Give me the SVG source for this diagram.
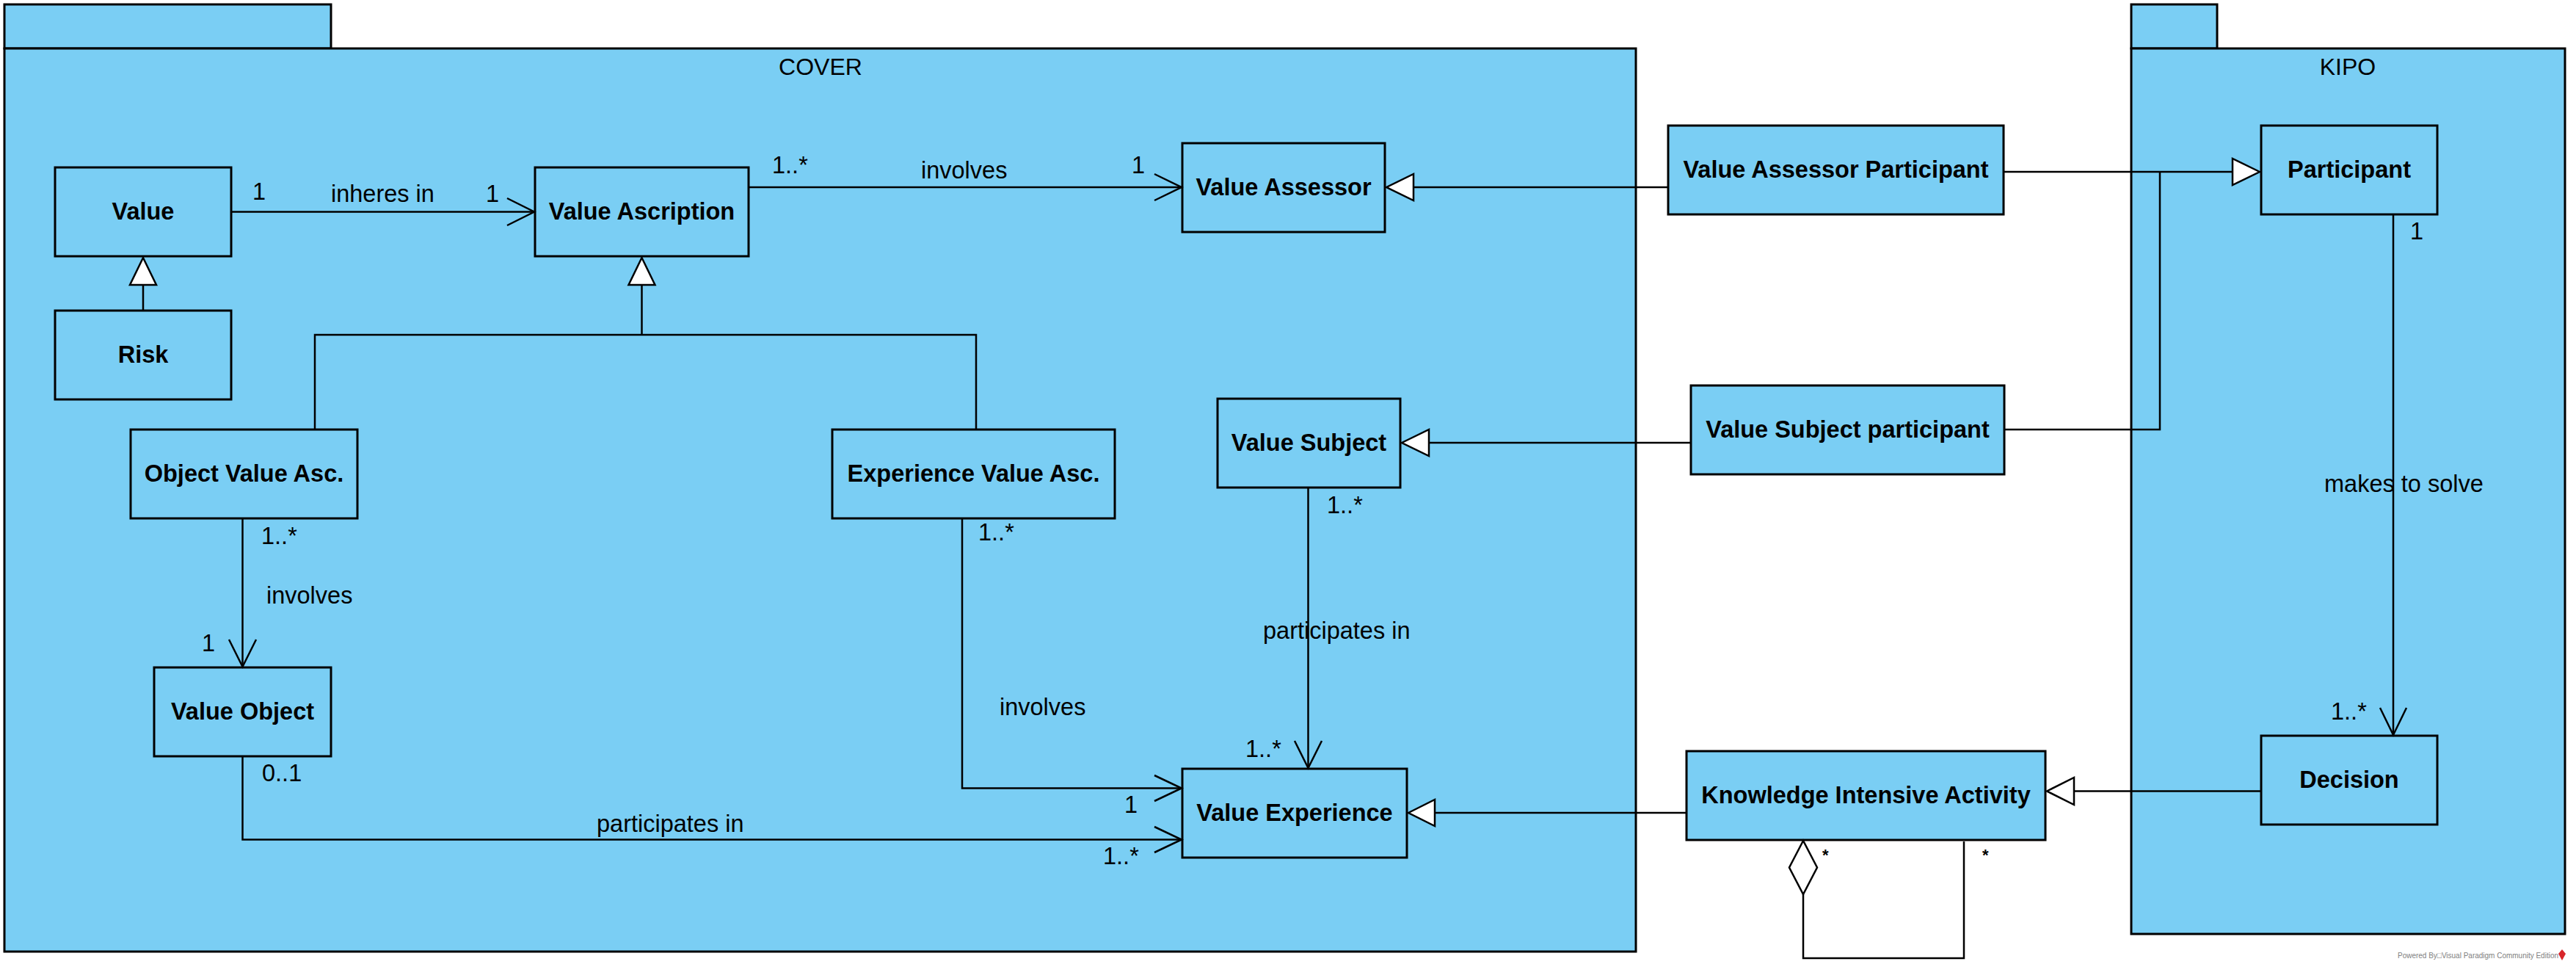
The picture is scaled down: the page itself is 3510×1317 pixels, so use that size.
<svg xmlns="http://www.w3.org/2000/svg" width="3510" height="1317" viewBox="0 0 3510 1317">
<style>
.pkg{fill:#7ACEF4;stroke:#000;stroke-width:3}
.box{fill:#7ACEF4;stroke:#000;stroke-width:3}
.name{font-family:"Liberation Sans",Arial,sans-serif;font-weight:bold;font-size:32.5px;text-anchor:middle;fill:#000}
.plabel{font-family:"Liberation Sans",Arial,sans-serif;font-size:32px;text-anchor:middle;fill:#000}
.lbl{font-family:"Liberation Sans",Arial,sans-serif;font-size:32.5px;fill:#000}
.star{font-family:"Liberation Sans",Arial,sans-serif;font-size:22px;font-weight:bold;fill:#000}
.ln{fill:none;stroke:#000;stroke-width:2.5}
.open{fill:none;stroke:#000;stroke-width:2.5}
.tri{fill:#fff;stroke:#000;stroke-width:2.5}
</style>
<rect width="3510" height="1317" fill="#fff"/>
<g id="pkg-cover">
<rect class="pkg" x="6" y="6" width="445" height="60"/>
<rect class="pkg" x="6" y="66" width="2223" height="1230"/>
<text class="plabel" x="1118" y="102">COVER</text>
</g>
<g id="pkg-kipo">
<rect class="pkg" x="2904" y="6" width="117" height="60"/>
<rect class="pkg" x="2904" y="66" width="591" height="1206"/>
<text class="plabel" x="3199" y="102">KIPO</text>
</g>
<g id="node-value"><rect class="box" x="75" y="228" width="240" height="121"/><text class="name" x="195" y="299">Value</text></g>
<g id="node-value-ascription"><rect class="box" x="729" y="228" width="291" height="121"/><text class="name" x="874.5" y="299">Value Ascription</text></g>
<g id="node-risk"><rect class="box" x="75" y="423" width="240" height="121"/><text class="name" x="195" y="494">Risk</text></g>
<g id="node-value-assessor"><rect class="box" x="1611" y="195" width="276" height="121"/><text class="name" x="1749" y="266">Value Assessor</text></g>
<g id="node-object-value-asc"><rect class="box" x="178" y="585" width="309" height="121"/><text class="name" x="332.5" y="656">Object Value Asc.</text></g>
<g id="node-experience-value-asc"><rect class="box" x="1134" y="585" width="385" height="121"/><text class="name" x="1326.5" y="656">Experience Value Asc.</text></g>
<g id="node-value-subject"><rect class="box" x="1659" y="543" width="249" height="121"/><text class="name" x="1783.5" y="614">Value Subject</text></g>
<g id="node-value-object"><rect class="box" x="210" y="909" width="241" height="121"/><text class="name" x="330.5" y="980">Value Object</text></g>
<g id="node-value-experience"><rect class="box" x="1611" y="1047" width="306" height="121"/><text class="name" x="1764" y="1118">Value Experience</text></g>
<g id="node-value-assessor-participant"><rect class="box" x="2273" y="171" width="457" height="121"/><text class="name" x="2501.5" y="242">Value Assessor Participant</text></g>
<g id="node-value-subject-participant"><rect class="box" x="2304" y="525" width="427" height="121"/><text class="name" x="2517.5" y="596">Value Subject participant</text></g>
<g id="node-knowledge-intensive-activity"><rect class="box" x="2298" y="1023" width="489" height="121"/><text class="name" x="2542.5" y="1094">Knowledge Intensive Activity</text></g>
<g id="node-participant"><rect class="box" x="3081" y="171" width="240" height="121"/><text class="name" x="3201" y="242">Participant</text></g>
<g id="node-decision"><rect class="box" x="3081" y="1002" width="240" height="121"/><text class="name" x="3201" y="1073">Decision</text></g>
<g id="connectors">
<g id="labels">
<text class="lbl" x="344" y="272">1</text>
<text class="lbl" x="451" y="275">inheres in</text>
<text class="lbl" x="662" y="275">1</text>
<text class="lbl" x="1052" y="236">1..*</text>
<text class="lbl" x="1255" y="243">involves</text>
<text class="lbl" x="1542" y="236">1</text>
<text class="lbl" x="356" y="741">1..*</text>
<text class="lbl" x="363" y="822">involves</text>
<text class="lbl" x="275" y="887">1</text>
<text class="lbl" x="357" y="1064">0..1</text>
<text class="lbl" x="813" y="1133">participates in</text>
<text class="lbl" x="1503" y="1177">1..*</text>
<text class="lbl" x="1333" y="736">1..*</text>
<text class="lbl" x="1362" y="974">involves</text>
<text class="lbl" x="1532" y="1107">1</text>
<text class="lbl" x="1808" y="699">1..*</text>
<text class="lbl" x="1721" y="870">participates in</text>
<text class="lbl" x="1697" y="1031">1..*</text>
<text class="lbl" x="3284" y="326">1</text>
<text class="lbl" x="3167" y="670">makes to solve</text>
<text class="lbl" x="3176" y="980">1..*</text>
<text class="star" x="2483" y="1172">*</text>
<text class="star" x="2701" y="1172">*</text>
</g>
<g id="edge-value-inheres-in">
<line class="ln" x1="315" y1="288.5" x2="728" y2="288.5"/>
<polyline class="open" points="691,270 728,288.5 691,307"/>
</g>
<g id="edge-va-involves-assessor">
<line class="ln" x1="1020" y1="255" x2="1610" y2="255"/>
<polyline class="open" points="1573,237 1610,255 1573,273"/>
</g>
<g id="edge-risk-gen">
<line class="ln" x1="195" y1="423" x2="195" y2="388"/>
<polygon class="tri" points="195,351 177,388 213,388"/>
</g>
<g id="edge-asc-gen">
<polyline class="ln" points="429,585 429,456 1330,456 1330,585"/>
<line class="ln" x1="874.5" y1="456" x2="874.5" y2="388"/>
<polygon class="tri" points="874.5,351 856.5,388 892.5,388"/>
</g>
<g id="edge-ova-involves-vo">
<line class="ln" x1="330.5" y1="706" x2="330.5" y2="908"/>
<polyline class="open" points="312,871 330.5,908 349,871"/>
</g>
<g id="edge-vo-participates-ve">
<polyline class="ln" points="330.5,1030 330.5,1143.5 1610,1143.5"/>
<polyline class="open" points="1573,1126 1610,1143.5 1573,1161"/>
</g>
<g id="edge-eva-involves-ve">
<polyline class="ln" points="1311,706 1311,1073.5 1610,1073.5"/>
<polyline class="open" points="1573,1056 1610,1073.5 1573,1091"/>
</g>
<g id="edge-vs-participates-ve">
<line class="ln" x1="1782.5" y1="664" x2="1782.5" y2="1046"/>
<polyline class="open" points="1764,1009 1782.5,1046 1801,1009"/>
</g>
<g id="edge-vap-gen-va">
<line class="ln" x1="2273" y1="255" x2="1926" y2="255"/>
<polygon class="tri" points="1889,255 1926,237 1926,273"/>
</g>
<g id="edge-vsp-gen-vs">
<line class="ln" x1="2304" y1="603" x2="1947" y2="603"/>
<polygon class="tri" points="1910,603 1947,585 1947,621"/>
</g>
<g id="edge-kia-gen-ve">
<line class="ln" x1="2298" y1="1107" x2="1955" y2="1107"/>
<polygon class="tri" points="1919,1107 1955,1089 1955,1125"/>
</g>
<g id="edge-participant-gen">
<line class="ln" x1="2730" y1="234" x2="3042" y2="234"/>
<polyline class="ln" points="2731,585 2943,585 2943,234"/>
<polygon class="tri" points="3079,234 3042,216 3042,252"/>
</g>
<g id="edge-decision-gen-kia">
<line class="ln" x1="3081" y1="1077.5" x2="2826" y2="1077.5"/>
<polygon class="tri" points="2789,1077.5 2826,1059 2826,1096"/>
</g>
<g id="edge-participant-makes-decision">
<line class="ln" x1="3261" y1="292" x2="3261" y2="1001"/>
<polyline class="open" points="3243,964 3261,1001 3279,964"/>
</g>
<g id="edge-kia-aggregation">
<polyline class="ln" points="2457,1218 2457,1305 2676,1305 2676,1146"/>
<polygon class="tri" points="2457,1145 2438,1181.5 2457,1218 2476,1181.5"/>
</g>
</g>
<g id="watermark">
<text x="3267" y="1305" font-family="Liberation Sans,Arial,sans-serif" font-size="11" fill="#808080" textLength="219" lengthAdjust="spacingAndGlyphs">Powered By□Visual Paradigm Community Edition</text>
<polygon points="3491,1293 3496,1299 3491,1308 3486,1299" fill="#d8262b"/>
</g>
</svg>
